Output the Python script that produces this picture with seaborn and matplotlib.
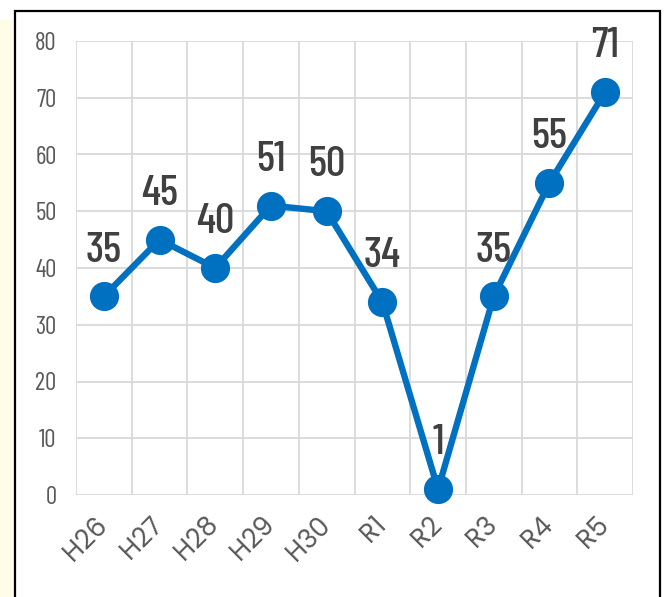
"""Yearly count line chart, H26 to R5."""
import matplotlib
import numpy as np
import pandas as pd
import seaborn as sns
from matplotlib.patches import Rectangle

matplotlib.use("Agg")
import matplotlib.pyplot as plt

YEARS = ["H26", "H27", "H28", "H29", "H30", "R1", "R2", "R3", "R4", "R5"]
COUNTS = [35, 45, 40, 51, 50, 34, 1, 35, 55, 71]
Y_TICKS = [0, 10, 20, 30, 40, 50, 60, 70, 80]

BLUE = "#0070C0"
GRID = "#D9D9D9"
NUM_FONT = ["Barlow Condensed", "DejaVu Sans"]
CAT_FONT = ["Poppins", "Barlow", "DejaVu Sans"]

sns.set_theme(style="white")
plt.rcParams["font.family"] = NUM_FONT
matplotlib.set_loglevel("error")

df = pd.DataFrame({"year": YEARS, "count": COUNTS})
df["pos"] = np.arange(len(df))

fig = plt.figure(figsize=(6.69, 5.97), dpi=100)
fig.patch.set_facecolor("white")
# pale strip on the left and the black frame
fig.patches.append(Rectangle((0, 0), 14 / 669, 1 - 20 / 597, transform=fig.transFigure,
                             facecolor="#FFFDE7", edgecolor="none", zorder=0))
fig.patches.append(Rectangle((15 / 669, -0.05), 645 / 669, 1.05 - 11 / 597,
                             transform=fig.transFigure, facecolor="none",
                             edgecolor="black", lw=1.6, zorder=1))

ax = fig.add_axes([76 / 669, 1 - 495 / 597, 557 / 669, 454 / 597])
ax.set_facecolor("none")

sns.lineplot(data=df, x="pos", y="count", color=BLUE, lw=4.6, marker="o",
             markersize=21, markeredgewidth=0, ax=ax, zorder=3, clip_on=False)

for x, y in zip(df["pos"], df["count"]):
    ax.annotate(str(y), (x, y), xytext=(0, 33), textcoords="offset points",
                ha="center", va="center", fontsize=31, fontweight="medium",
                color="#404040", zorder=4)

ax.set_xlim(-0.5, len(YEARS) - 0.5)
ax.set_ylim(0, 80)
ax.set_yticks(Y_TICKS)
ax.set_xticks(df["pos"])
ax.set_xticklabels(YEARS, rotation=45, ha="right", va="center",
                   rotation_mode="anchor", family=CAT_FONT, fontweight="normal")
ax.set_xticks(np.arange(-0.5, len(YEARS)), minor=True)
ax.tick_params(axis="x", which="major", length=0, pad=19, labelsize=19,
               labelcolor="#595959")
ax.tick_params(axis="x", which="minor", length=5, width=1.3, color=GRID)
ax.tick_params(axis="y", length=0, pad=14, labelsize=18, labelcolor="#595959")

ax.grid(False)
for v in Y_TICKS:
    ax.axhline(v, color=GRID, lw=1.3, zorder=1)
for v in np.arange(-0.5, len(YEARS)):
    ax.axvline(v, color=GRID, lw=1.3, zorder=1)
for s in ax.spines.values():
    s.set_visible(False)
ax.set_xlabel("")
ax.set_ylabel("")

fig.savefig("out.png", dpi=100)
